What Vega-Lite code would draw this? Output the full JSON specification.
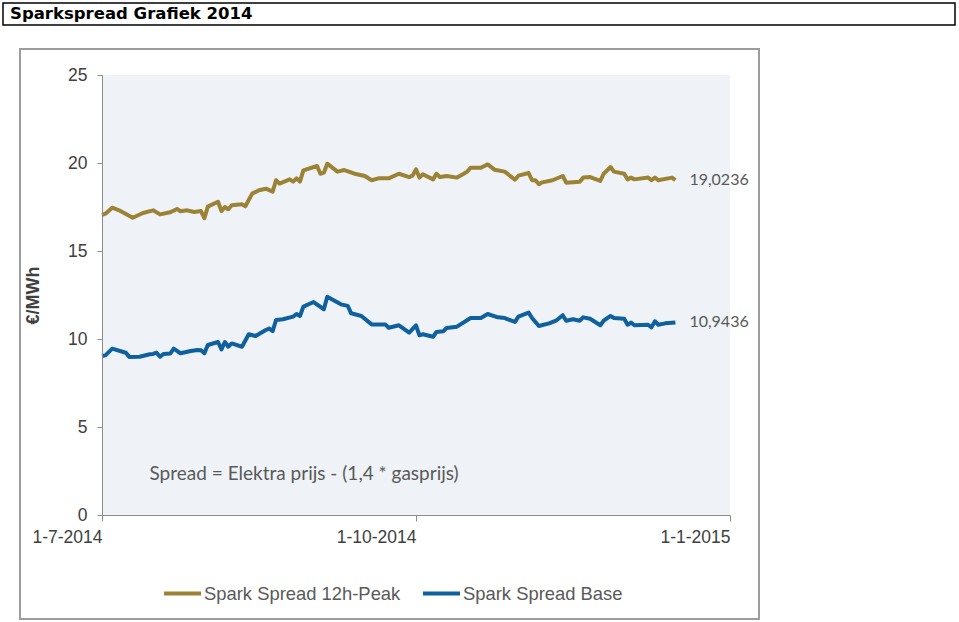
{
  "$schema": "https://vega.github.io/schema/vega-lite/v6.json",
  "background": "white",
  "padding": {"left": 2, "top": 2, "right": 0, "bottom": 0},
  "config": {
    "view": {"stroke": null},
    "font": "Liberation Sans",
    "locale": {"number": {"decimal": ",", "thousands": ".", "grouping": [3], "currency": ["€", ""]}}
  },
  "datasets": {
    "spread": [
      {"date": "2014-07-01", "series": "Spark Spread 12h-Peak", "value": 17.05},
      {"date": "2014-07-02", "series": "Spark Spread 12h-Peak", "value": 17.12},
      {"date": "2014-07-04", "series": "Spark Spread 12h-Peak", "value": 17.46},
      {"date": "2014-07-06", "series": "Spark Spread 12h-Peak", "value": 17.31},
      {"date": "2014-07-10", "series": "Spark Spread 12h-Peak", "value": 16.89},
      {"date": "2014-07-13", "series": "Spark Spread 12h-Peak", "value": 17.16},
      {"date": "2014-07-16", "series": "Spark Spread 12h-Peak", "value": 17.31},
      {"date": "2014-07-18", "series": "Spark Spread 12h-Peak", "value": 17.08},
      {"date": "2014-07-21", "series": "Spark Spread 12h-Peak", "value": 17.2},
      {"date": "2014-07-23", "series": "Spark Spread 12h-Peak", "value": 17.39},
      {"date": "2014-07-24", "series": "Spark Spread 12h-Peak", "value": 17.26},
      {"date": "2014-07-26", "series": "Spark Spread 12h-Peak", "value": 17.31},
      {"date": "2014-07-28", "series": "Spark Spread 12h-Peak", "value": 17.22},
      {"date": "2014-07-30", "series": "Spark Spread 12h-Peak", "value": 17.27},
      {"date": "2014-07-31", "series": "Spark Spread 12h-Peak", "value": 16.86},
      {"date": "2014-08-01", "series": "Spark Spread 12h-Peak", "value": 17.52},
      {"date": "2014-08-04", "series": "Spark Spread 12h-Peak", "value": 17.8},
      {"date": "2014-08-05", "series": "Spark Spread 12h-Peak", "value": 17.27},
      {"date": "2014-08-06", "series": "Spark Spread 12h-Peak", "value": 17.5},
      {"date": "2014-08-07", "series": "Spark Spread 12h-Peak", "value": 17.37},
      {"date": "2014-08-08", "series": "Spark Spread 12h-Peak", "value": 17.6},
      {"date": "2014-08-11", "series": "Spark Spread 12h-Peak", "value": 17.65},
      {"date": "2014-08-12", "series": "Spark Spread 12h-Peak", "value": 17.54},
      {"date": "2014-08-14", "series": "Spark Spread 12h-Peak", "value": 18.26},
      {"date": "2014-08-16", "series": "Spark Spread 12h-Peak", "value": 18.45},
      {"date": "2014-08-18", "series": "Spark Spread 12h-Peak", "value": 18.54},
      {"date": "2014-08-20", "series": "Spark Spread 12h-Peak", "value": 18.37},
      {"date": "2014-08-21", "series": "Spark Spread 12h-Peak", "value": 19.02},
      {"date": "2014-08-22", "series": "Spark Spread 12h-Peak", "value": 18.83},
      {"date": "2014-08-25", "series": "Spark Spread 12h-Peak", "value": 19.07},
      {"date": "2014-08-26", "series": "Spark Spread 12h-Peak", "value": 18.94},
      {"date": "2014-08-27", "series": "Spark Spread 12h-Peak", "value": 19.13},
      {"date": "2014-08-28", "series": "Spark Spread 12h-Peak", "value": 18.94},
      {"date": "2014-08-29", "series": "Spark Spread 12h-Peak", "value": 19.58},
      {"date": "2014-09-02", "series": "Spark Spread 12h-Peak", "value": 19.83},
      {"date": "2014-09-03", "series": "Spark Spread 12h-Peak", "value": 19.39},
      {"date": "2014-09-04", "series": "Spark Spread 12h-Peak", "value": 19.45},
      {"date": "2014-09-05", "series": "Spark Spread 12h-Peak", "value": 19.96},
      {"date": "2014-09-08", "series": "Spark Spread 12h-Peak", "value": 19.51},
      {"date": "2014-09-10", "series": "Spark Spread 12h-Peak", "value": 19.6},
      {"date": "2014-09-13", "series": "Spark Spread 12h-Peak", "value": 19.39},
      {"date": "2014-09-16", "series": "Spark Spread 12h-Peak", "value": 19.26},
      {"date": "2014-09-18", "series": "Spark Spread 12h-Peak", "value": 19.02},
      {"date": "2014-09-20", "series": "Spark Spread 12h-Peak", "value": 19.13},
      {"date": "2014-09-23", "series": "Spark Spread 12h-Peak", "value": 19.13},
      {"date": "2014-09-26", "series": "Spark Spread 12h-Peak", "value": 19.39},
      {"date": "2014-09-29", "series": "Spark Spread 12h-Peak", "value": 19.2},
      {"date": "2014-09-30", "series": "Spark Spread 12h-Peak", "value": 19.28},
      {"date": "2014-10-01", "series": "Spark Spread 12h-Peak", "value": 19.64},
      {"date": "2014-10-02", "series": "Spark Spread 12h-Peak", "value": 19.17},
      {"date": "2014-10-03", "series": "Spark Spread 12h-Peak", "value": 19.36},
      {"date": "2014-10-06", "series": "Spark Spread 12h-Peak", "value": 19.07},
      {"date": "2014-10-07", "series": "Spark Spread 12h-Peak", "value": 19.39},
      {"date": "2014-10-08", "series": "Spark Spread 12h-Peak", "value": 19.2},
      {"date": "2014-10-10", "series": "Spark Spread 12h-Peak", "value": 19.26},
      {"date": "2014-10-13", "series": "Spark Spread 12h-Peak", "value": 19.17},
      {"date": "2014-10-15", "series": "Spark Spread 12h-Peak", "value": 19.39},
      {"date": "2014-10-16", "series": "Spark Spread 12h-Peak", "value": 19.51},
      {"date": "2014-10-17", "series": "Spark Spread 12h-Peak", "value": 19.73},
      {"date": "2014-10-20", "series": "Spark Spread 12h-Peak", "value": 19.73},
      {"date": "2014-10-22", "series": "Spark Spread 12h-Peak", "value": 19.92},
      {"date": "2014-10-24", "series": "Spark Spread 12h-Peak", "value": 19.62},
      {"date": "2014-10-27", "series": "Spark Spread 12h-Peak", "value": 19.51},
      {"date": "2014-10-30", "series": "Spark Spread 12h-Peak", "value": 19.05},
      {"date": "2014-10-31", "series": "Spark Spread 12h-Peak", "value": 19.28},
      {"date": "2014-11-03", "series": "Spark Spread 12h-Peak", "value": 19.43},
      {"date": "2014-11-04", "series": "Spark Spread 12h-Peak", "value": 19.02},
      {"date": "2014-11-05", "series": "Spark Spread 12h-Peak", "value": 19.02},
      {"date": "2014-11-06", "series": "Spark Spread 12h-Peak", "value": 18.79},
      {"date": "2014-11-07", "series": "Spark Spread 12h-Peak", "value": 18.9},
      {"date": "2014-11-10", "series": "Spark Spread 12h-Peak", "value": 19.02},
      {"date": "2014-11-13", "series": "Spark Spread 12h-Peak", "value": 19.26},
      {"date": "2014-11-14", "series": "Spark Spread 12h-Peak", "value": 18.88},
      {"date": "2014-11-18", "series": "Spark Spread 12h-Peak", "value": 18.94},
      {"date": "2014-11-19", "series": "Spark Spread 12h-Peak", "value": 19.17},
      {"date": "2014-11-21", "series": "Spark Spread 12h-Peak", "value": 19.2},
      {"date": "2014-11-24", "series": "Spark Spread 12h-Peak", "value": 18.98},
      {"date": "2014-11-25", "series": "Spark Spread 12h-Peak", "value": 19.39},
      {"date": "2014-11-27", "series": "Spark Spread 12h-Peak", "value": 19.77},
      {"date": "2014-11-28", "series": "Spark Spread 12h-Peak", "value": 19.51},
      {"date": "2014-12-01", "series": "Spark Spread 12h-Peak", "value": 19.39},
      {"date": "2014-12-02", "series": "Spark Spread 12h-Peak", "value": 19.07},
      {"date": "2014-12-03", "series": "Spark Spread 12h-Peak", "value": 19.17},
      {"date": "2014-12-04", "series": "Spark Spread 12h-Peak", "value": 19.07},
      {"date": "2014-12-08", "series": "Spark Spread 12h-Peak", "value": 19.17},
      {"date": "2014-12-09", "series": "Spark Spread 12h-Peak", "value": 19.02},
      {"date": "2014-12-10", "series": "Spark Spread 12h-Peak", "value": 19.17},
      {"date": "2014-12-11", "series": "Spark Spread 12h-Peak", "value": 19.02},
      {"date": "2014-12-15", "series": "Spark Spread 12h-Peak", "value": 19.17},
      {"date": "2014-12-16", "series": "Spark Spread 12h-Peak", "value": 19.0236},
      {"date": "2014-07-01", "series": "Spark Spread Base", "value": 9.03},
      {"date": "2014-07-02", "series": "Spark Spread Base", "value": 9.07},
      {"date": "2014-07-04", "series": "Spark Spread Base", "value": 9.45},
      {"date": "2014-07-08", "series": "Spark Spread Base", "value": 9.22},
      {"date": "2014-07-09", "series": "Spark Spread Base", "value": 8.98},
      {"date": "2014-07-12", "series": "Spark Spread Base", "value": 8.99},
      {"date": "2014-07-15", "series": "Spark Spread Base", "value": 9.13},
      {"date": "2014-07-16", "series": "Spark Spread Base", "value": 9.15},
      {"date": "2014-07-17", "series": "Spark Spread Base", "value": 9.22},
      {"date": "2014-07-18", "series": "Spark Spread Base", "value": 8.99},
      {"date": "2014-07-19", "series": "Spark Spread Base", "value": 9.15},
      {"date": "2014-07-21", "series": "Spark Spread Base", "value": 9.17},
      {"date": "2014-07-22", "series": "Spark Spread Base", "value": 9.45},
      {"date": "2014-07-24", "series": "Spark Spread Base", "value": 9.19},
      {"date": "2014-07-27", "series": "Spark Spread Base", "value": 9.32},
      {"date": "2014-07-29", "series": "Spark Spread Base", "value": 9.38},
      {"date": "2014-07-30", "series": "Spark Spread Base", "value": 9.36},
      {"date": "2014-07-31", "series": "Spark Spread Base", "value": 9.19},
      {"date": "2014-08-01", "series": "Spark Spread Base", "value": 9.66},
      {"date": "2014-08-04", "series": "Spark Spread Base", "value": 9.83},
      {"date": "2014-08-05", "series": "Spark Spread Base", "value": 9.41},
      {"date": "2014-08-06", "series": "Spark Spread Base", "value": 9.83},
      {"date": "2014-08-07", "series": "Spark Spread Base", "value": 9.56},
      {"date": "2014-08-08", "series": "Spark Spread Base", "value": 9.75},
      {"date": "2014-08-11", "series": "Spark Spread Base", "value": 9.56},
      {"date": "2014-08-13", "series": "Spark Spread Base", "value": 10.27},
      {"date": "2014-08-15", "series": "Spark Spread Base", "value": 10.17},
      {"date": "2014-08-18", "series": "Spark Spread Base", "value": 10.51},
      {"date": "2014-08-19", "series": "Spark Spread Base", "value": 10.59},
      {"date": "2014-08-20", "series": "Spark Spread Base", "value": 10.45},
      {"date": "2014-08-21", "series": "Spark Spread Base", "value": 11.08},
      {"date": "2014-08-23", "series": "Spark Spread Base", "value": 11.12},
      {"date": "2014-08-26", "series": "Spark Spread Base", "value": 11.27},
      {"date": "2014-08-27", "series": "Spark Spread Base", "value": 11.42},
      {"date": "2014-08-28", "series": "Spark Spread Base", "value": 11.31},
      {"date": "2014-08-29", "series": "Spark Spread Base", "value": 11.84},
      {"date": "2014-09-01", "series": "Spark Spread Base", "value": 12.1},
      {"date": "2014-09-04", "series": "Spark Spread Base", "value": 11.69},
      {"date": "2014-09-05", "series": "Spark Spread Base", "value": 12.4},
      {"date": "2014-09-09", "series": "Spark Spread Base", "value": 11.97},
      {"date": "2014-09-11", "series": "Spark Spread Base", "value": 11.88},
      {"date": "2014-09-12", "series": "Spark Spread Base", "value": 11.46},
      {"date": "2014-09-15", "series": "Spark Spread Base", "value": 11.31},
      {"date": "2014-09-18", "series": "Spark Spread Base", "value": 10.83},
      {"date": "2014-09-22", "series": "Spark Spread Base", "value": 10.83},
      {"date": "2014-09-23", "series": "Spark Spread Base", "value": 10.64},
      {"date": "2014-09-26", "series": "Spark Spread Base", "value": 10.78},
      {"date": "2014-09-29", "series": "Spark Spread Base", "value": 10.36},
      {"date": "2014-10-01", "series": "Spark Spread Base", "value": 10.78},
      {"date": "2014-10-02", "series": "Spark Spread Base", "value": 10.21},
      {"date": "2014-10-03", "series": "Spark Spread Base", "value": 10.27},
      {"date": "2014-10-06", "series": "Spark Spread Base", "value": 10.13},
      {"date": "2014-10-07", "series": "Spark Spread Base", "value": 10.4},
      {"date": "2014-10-09", "series": "Spark Spread Base", "value": 10.44},
      {"date": "2014-10-10", "series": "Spark Spread Base", "value": 10.63},
      {"date": "2014-10-13", "series": "Spark Spread Base", "value": 10.7},
      {"date": "2014-10-17", "series": "Spark Spread Base", "value": 11.19},
      {"date": "2014-10-20", "series": "Spark Spread Base", "value": 11.19},
      {"date": "2014-10-22", "series": "Spark Spread Base", "value": 11.42},
      {"date": "2014-10-25", "series": "Spark Spread Base", "value": 11.23},
      {"date": "2014-10-27", "series": "Spark Spread Base", "value": 11.19},
      {"date": "2014-10-30", "series": "Spark Spread Base", "value": 10.97},
      {"date": "2014-10-31", "series": "Spark Spread Base", "value": 11.27},
      {"date": "2014-11-03", "series": "Spark Spread Base", "value": 11.5},
      {"date": "2014-11-04", "series": "Spark Spread Base", "value": 11.19},
      {"date": "2014-11-06", "series": "Spark Spread Base", "value": 10.74},
      {"date": "2014-11-09", "series": "Spark Spread Base", "value": 10.89},
      {"date": "2014-11-11", "series": "Spark Spread Base", "value": 11.04},
      {"date": "2014-11-13", "series": "Spark Spread Base", "value": 11.35},
      {"date": "2014-11-14", "series": "Spark Spread Base", "value": 11.04},
      {"date": "2014-11-16", "series": "Spark Spread Base", "value": 11.12},
      {"date": "2014-11-18", "series": "Spark Spread Base", "value": 11.04},
      {"date": "2014-11-19", "series": "Spark Spread Base", "value": 11.23},
      {"date": "2014-11-21", "series": "Spark Spread Base", "value": 11.15},
      {"date": "2014-11-24", "series": "Spark Spread Base", "value": 10.78},
      {"date": "2014-11-25", "series": "Spark Spread Base", "value": 11.04},
      {"date": "2014-11-27", "series": "Spark Spread Base", "value": 11.31},
      {"date": "2014-11-28", "series": "Spark Spread Base", "value": 11.19},
      {"date": "2014-12-01", "series": "Spark Spread Base", "value": 11.15},
      {"date": "2014-12-02", "series": "Spark Spread Base", "value": 10.81},
      {"date": "2014-12-03", "series": "Spark Spread Base", "value": 10.93},
      {"date": "2014-12-04", "series": "Spark Spread Base", "value": 10.78},
      {"date": "2014-12-08", "series": "Spark Spread Base", "value": 10.81},
      {"date": "2014-12-09", "series": "Spark Spread Base", "value": 10.66},
      {"date": "2014-12-10", "series": "Spark Spread Base", "value": 11.01},
      {"date": "2014-12-11", "series": "Spark Spread Base", "value": 10.81},
      {"date": "2014-12-13", "series": "Spark Spread Base", "value": 10.89},
      {"date": "2014-12-16", "series": "Spark Spread Base", "value": 10.9436}
    ]
  },
  "spacing": 22,
  "vconcat": [
    {
      "width": 952,
      "height": 22,
      "view": {"stroke": "#000000", "strokeWidth": 1.5},
      "data": {"values": [{"title": "Sparkspread Grafiek 2014"}]},
      "mark": {"type": "text", "align": "left", "baseline": "middle", "font": "DejaVu Sans", "fontWeight": "bold", "fontSize": 16.5, "color": "#000000", "dx": 7},
      "encoding": {
        "text": {"field": "title"},
        "x": {"datum": 0, "type": "quantitative", "scale": {"domain": [0, 1]}, "axis": null},
        "y": {"datum": 0.5, "type": "quantitative", "scale": {"domain": [0, 1]}, "axis": null}
      }
    },
    {
      "spacing": 0,
      "hconcat": [
        {"width": 16, "height": 570, "data": {"values": []}, "mark": "point"},
        {
          "width": 739,
          "height": 570,
          "view": {"stroke": "#9d9d9d", "strokeWidth": 2},
          "data": {"name": "spread"},
          "resolve": {"axis": {"x": "independent", "y": "independent"}},
          "layer": [
            {
              "data": {"values": [{"area": "plot"}]},
              "mark": {"type": "rect", "fill": "#EFF3F7"},
              "encoding": {
                "x": {
                  "datum": {"year": 2014, "month": 7, "date": 1},
                  "type": "temporal",
                  "scale": {"domain": [{"year": 2014, "month": 7, "date": 1}, {"year": 2015, "month": 1, "date": 1}], "range": [82, 710]},
                  "axis": null
                },
                "x2": {"datum": {"year": 2015, "month": 1, "date": 1}},
                "y": {
                  "datum": 0,
                  "type": "quantitative",
                  "scale": {"domain": [0, 25], "range": [466, 26], "nice": false},
                  "axis": null
                },
                "y2": {"datum": 25}
              }
            },
            {
              "mark": {"type": "line", "strokeWidth": 4, "strokeJoin": "round"},
              "encoding": {
                "x": {
                  "field": "date", "type": "temporal",
                  "scale": {"domain": [{"year": 2014, "month": 7, "date": 1}, {"year": 2015, "month": 1, "date": 1}], "range": [82, 710]},
                  "axis": {
                    "orient": "bottom", "offset": -104, "title": null, "grid": false,
                    "values": [{"year": 2014, "month": 7, "date": 1}, {"year": 2014, "month": 10, "date": 1}, {"year": 2015, "month": 1, "date": 1}],
                    "format": "%-d-%-m-%Y", "labelAlign": "right", "labelBaseline": "top", "labelFlush": false, "labelOverlap": false,
                    "labelFontSize": 17.5, "labelColor": "#404040", "labelPadding": 7,
                    "tickSize": 6, "tickColor": "#8c8c8c", "domainColor": "#8c8c8c", "zindex": 1
                  }
                },
                "y": {
                  "field": "value", "type": "quantitative",
                  "scale": {"domain": [0, 25], "range": [466, 26], "nice": false},
                  "axis": {
                    "orient": "left", "offset": -82, "values": [0, 5, 10, 15, 20, 25], "grid": false,
                    "title": "€/MWh", "titleFontSize": 18, "titleFontWeight": "bold", "titleColor": "#404040", "titlePadding": 25,
                    "labelFontSize": 17.5, "labelColor": "#404040", "labelPadding": 10,
                    "tickSize": 5, "tickColor": "#8c8c8c", "domainColor": "#8c8c8c", "zindex": 1
                  }
                },
                "color": {
                  "field": "series", "type": "nominal",
                  "scale": {"domain": ["Spark Spread 12h-Peak", "Spark Spread Base"], "range": ["#9C8235", "#0E609E"]},
                  "legend": {
                    "orient": "none", "legendX": 159, "legendY": 570, "direction": "horizontal", "title": null,
                    "symbolType": "stroke", "symbolSize": 1369, "symbolStrokeWidth": 4,
                    "labelFont": "Liberation Sans", "labelFontSize": 18.4, "labelColor": "#595959", "labelOffset": 1,
                    "columnPadding": 14, "padding": 0, "labelLimit": 400
                  }
                }
              }
            },
            {
              "transform": [{"filter": "time(datum.date) === time('2014-12-16')"}],
              "mark": {"type": "text", "align": "left", "baseline": "middle", "dx": 14, "font": "Lato", "fontSize": 16, "color": "#595959"},
              "encoding": {
                "x": {"field": "date", "type": "temporal", "axis": null},
                "y": {"field": "value", "type": "quantitative", "axis": null},
                "text": {"field": "value", "type": "quantitative", "format": ".4f"}
              }
            },
            {
              "data": {"values": [{"note": "Spread = Elektra prijs - (1,4 * gasprijs)"}]},
              "mark": {"type": "text", "align": "center", "baseline": "alphabetic", "font": "Lato", "fontSize": 19, "color": "#595959"},
              "encoding": {
                "x": {"datum": {"year": 2014, "month": 8, "date": 29, "hours": 5}, "type": "temporal", "axis": null},
                "y": {"datum": 1.97, "type": "quantitative", "axis": null},
                "text": {"field": "note"}
              }
            }
          ]
        }
      ]
    }
  ]
}
